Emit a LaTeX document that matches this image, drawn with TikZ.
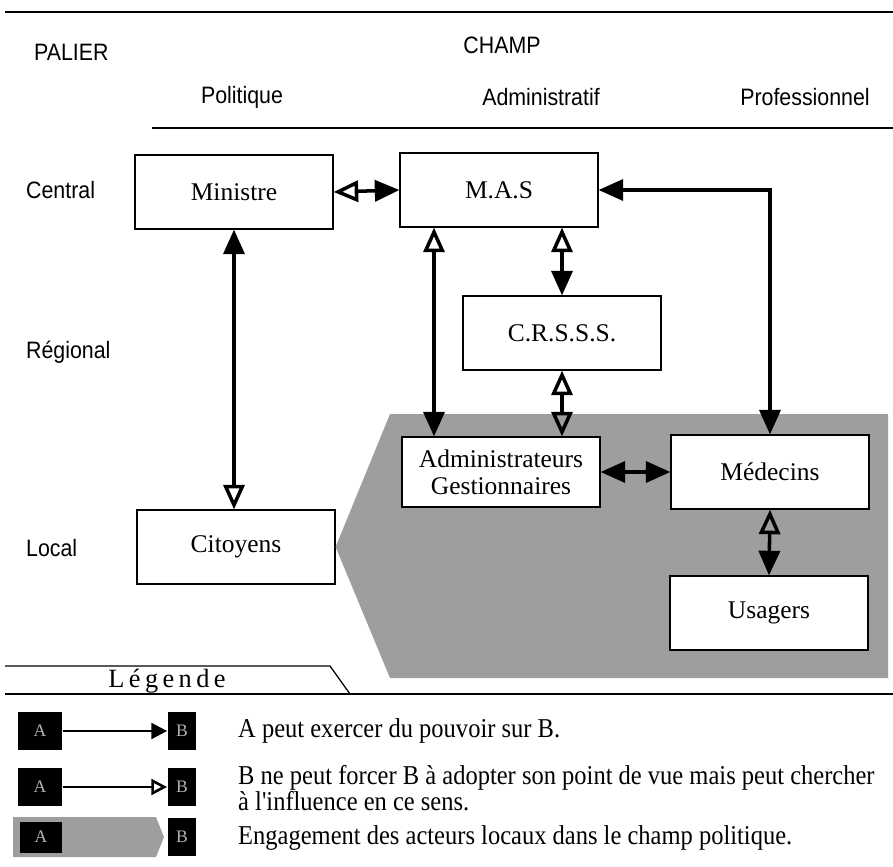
\documentclass[tikz,border=0pt]{standalone}
\usepackage{fontspec}
\setmainfont{Liberation Serif}
\setsansfont{Liberation Sans}
\newfontfamily\legendfont[FakeStretch=0.9]{Liberation Serif}
\newfontfamily\narrowsans[FakeStretch=0.9]{Liberation Sans}
\usetikzlibrary{arrows.meta,positioning}
\tikzset{
    pow/.tip={Triangle[length=14pt,width=12pt]},
    inf/.tip={Triangle[open,length=14pt,width=12pt]},
    lpow/.tip={Triangle[length=9pt,width=9pt]},
    linf/.tip={Triangle[open,length=9pt,width=9pt]}
}
\begin{document}
\begin{tikzpicture}[x=0.02cm,y=-0.02cm,
        acteur/.style={draw,line width=0.7pt,fill=white,minimum width=3.96cm,minimum height=1.48cm,inner sep=0pt,align=center,font=\fontsize{14.5}{15.5}\selectfont},
        entete/.style={font=\narrowsans\fontsize{13.5}{15}\selectfont},
        palier/.style={entete,anchor=west},
        lien/.style={line width=2pt},
        cle/.style={fill=black,text=black!30,inner sep=0pt,minimum height=0.76cm,font=\fontsize{10}{11}\selectfont},
        zone/.style={fill=black!38},
        texte/.style={anchor=west,align=left,font=\legendfont\fontsize{15.5}{10.5}\selectfont}]
        \useasboundingbox (0,0) rectangle (893,866);

        \draw[line width=0.7pt] (5,12) -- (893,12);
        \draw[line width=0.7pt] (152,128) -- (893,128);
        \node[palier] (palier) at (28,52) {PALIER};
        \node[entete] (champ) at (502,45) {CHAMP};
        \node[entete] (pol) at (242,97) {Politique};
        \node[entete] (adm) at (541,97) {Administratif};
        \node[entete] (pro) at (805,97) {Professionnel};
        \node[palier] (central) at (20,190) {Central};
        \node[palier] (regional) at (20,352) {Régional};
        \node[palier] (local) at (20,548) {Local};

        \node[acteur] (citoyens) at (236,547) {Citoyens};
        \fill[zone] (390,414) -- (888,414) -- (888,678) -- (390,678) -- (citoyens.east) -- cycle;

        \node[acteur] (ministre) at (234,192) {Ministre};
        \node[acteur] (mas) at (499,190) {M.A.S};
        \node[acteur] (crsss) at (562,333) {C.R.S.S.S.};
        \node[acteur,minimum height=1.4cm] (admin) at (501,472) {Administrateurs\\Gestionnaires};
        \node[acteur] (medecins) at (770,472) {Médecins};
        \node[acteur] (usagers) at (769,613) {Usagers};

        \coordinate (masg) at ([xshift=-1.3cm]mas.south);
        \draw[lien,pow-inf] (ministre.south) -- (ministre.south |- citoyens.north);
        \draw[lien,inf-pow] (ministre.east) -- (mas.west);
        \draw[lien,inf-pow] (masg) -- (masg |- admin.north);
        \draw[lien,inf-pow] (crsss.north |- mas.south) -- (crsss.north);
        \draw[lien,inf-inf] (crsss.south) -- (crsss.south |- admin.north);
        \draw[lien,pow-pow] (admin.east) -- (medecins.west);
        \draw[lien,pow-pow] (mas.east) -- (medecins.north |- mas.east) -- (medecins.north);
        \draw[lien,inf-pow] (medecins.south) -- (usagers.north);

        \draw[line width=0.7pt] (5,666) -- (330,666) -- (350,694);
        \draw[line width=0.7pt] (5,694) -- (893,694);
        \node[font=\fontsize{15}{16}\selectfont] (legende) at (167,681) {L\kern2.5pt é\kern2.5pt g\kern2.5pt e\kern2.5pt n\kern2.5pt d\kern2.5pt e};

        \node[cle,minimum width=0.9cm] (a1) at (40,731) {A};
        \node[cle,minimum width=0.58cm] (b1) at (182,731) {B};
        \draw[line width=1.5pt,-lpow] (a1) -- (b1);
        \node[texte] (t1) at (232,731) {A peut exercer du pouvoir sur B.};

        \node[cle,minimum width=0.9cm] (a2) at (40,787) {A};
        \node[cle,minimum width=0.58cm] (b2) at (182,787) {B};
        \draw[line width=1.5pt,-linf] (a2) -- (b2);
        \node[texte] (t2) at (232,788) {B ne peut forcer B à adopter son point de vue mais peut chercher\\à l'influence en ce sens.};

        \fill[zone] (13,817) -- (156,817) -- (164,837) -- (156,857) -- (13,857) -- cycle;
        \node[cle,minimum width=0.84cm,minimum height=0.62cm] (a3) at (41,837) {A};
        \node[cle,minimum width=0.58cm] (b3) at (182,837) {B};
        \node[texte] (t3) at (232,838) {Engagement des acteurs locaux dans le champ politique.};
    \end{tikzpicture}
\end{document}
